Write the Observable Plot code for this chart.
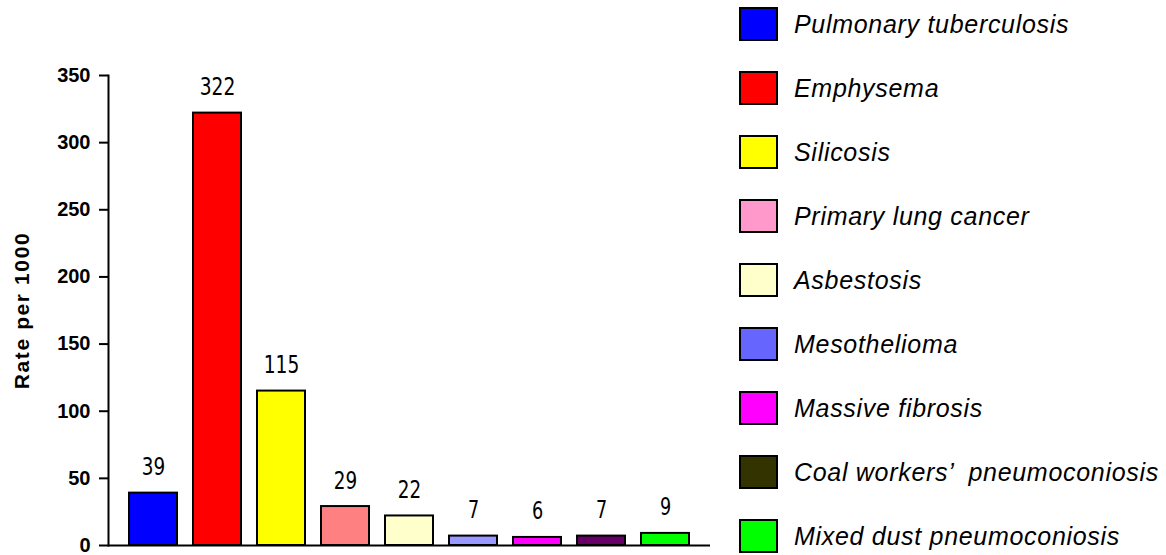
<!DOCTYPE html>
<html>
<head>
<meta charset="utf-8">
<script src="https://cdn.jsdelivr.net/npm/d3@7"></script>
<script src="https://cdn.jsdelivr.net/npm/@observablehq/plot@0.6"></script>
<style>
  body { margin: 0; background: #fff; }
  #wrap { position: relative; width: 1166px; height: 555px; }
  #chart { position: absolute; left: 0; top: 0; }
  #legend { position: absolute; left: 739px; top: 7px; font-family: "Liberation Sans", Arial, sans-serif; }
  .row { position: absolute; left: 0; height: 34px; width: 427px; }
  .sw { position: absolute; left: 0; top: 0; width: 35px; height: 30px; border: 2px solid #000; }
  .lab { position: absolute; left: 55px; top: 0; font-size: 25px; font-style: italic; color: #000; white-space: pre; line-height: 34px; letter-spacing: 0.7px; }
</style>
</head>
<body>
<div id="wrap">
  <div id="chart"></div>
  <div id="legend"></div>
</div>
<script>
const categories = ["Pulmonary tuberculosis", "Emphysema", "Silicosis", "Primary lung cancer", "Asbestosis", "Mesothelioma", "Massive fibrosis", "Coal workers\u2019  pneumoconiosis", "Mixed dust pneumoconiosis"];
const values = [39, 322, 115, 29, 22, 7, 6, 7, 9];
const barColors = ["#0000FF", "#FF0000", "#FFFF00", "#FF8080", "#FFFFCC", "#9999FF", "#FF00FF", "#660066", "#00FF00"];
const legendColors = ["#0000FF", "#FF0000", "#FFFF00", "#FF99CC", "#FFFFCC", "#6666FF", "#FF00FF", "#333300", "#00FF00"];
const yTicks = [0, 50, 100, 150, 200, 250, 300, 350];
const yLabel = "Rate per 1000";

const data = categories.map((c, i) => ({category: c, value: values[i], color: barColors[i]}));

const chart = Plot.plot({
  width: 730,
  height: 555,
  marginLeft: 108,
  marginRight: 20,
  marginTop: 75,
  marginBottom: 10,
  style: {fontFamily: "'Liberation Sans', Arial, sans-serif", background: "#fff"},
  x: {domain: categories, paddingInner: 0.25, paddingOuter: 0.26, axis: null},
  y: {domain: [0, 350], ticks: yTicks, label: null},
  color: {type: "identity"},
  marks: [
    Plot.barY(data, {x: "category", y: "value", fill: "color", stroke: "#000", strokeWidth: 2}),
    Plot.text(data, {x: "category", y: "value", text: d => String(d.value), dy: -18, lineAnchor: "bottom",
      className: "vlabel",
      fontFamily: "'DejaVu Sans Condensed', 'DejaVu Sans', sans-serif", fontSize: 25, fill: "#000"}),
    Plot.axisY({ticks: yTicks, tickSize: 9, strokeWidth: 2, stroke: "#000", text: null, label: null}),
    Plot.text(yTicks, {x: null, y: d => d, frameAnchor: "left", textAnchor: "end", dx: -18, text: d => String(d),
      fontSize: 20, fontWeight: "bold", fill: "#000", className: "yticklab"}),
    Plot.text([yLabel], {frameAnchor: "left", textAnchor: "middle", dx: -86, rotate: -90, fontSize: 21, fontWeight: "bold", fill: "#000", className: "ylab"}),
    Plot.frame({anchor: "left", stroke: "#000", strokeWidth: 2}),
    Plot.ruleY([0], {stroke: "#000", strokeWidth: 2})
  ]
});
document.getElementById("chart").appendChild(chart);

// narrow, tall value labels (condensed glyphs)
d3.select(chart).selectAll(".vlabel text").each(function() {
  const t = this.textContent;
  d3.select(this).attr("textLength", t.length * 12.2 - 1).attr("lengthAdjust", "spacingAndGlyphs");
});
d3.select(chart).selectAll(".ylab text").style("letter-spacing", "1.6px");

const legend = document.getElementById("legend");
categories.forEach((c, i) => {
  const row = document.createElement("div");
  row.className = "row";
  row.style.top = (i * 64) + "px";
  const sw = document.createElement("div");
  sw.className = "sw";
  sw.style.background = legendColors[i];
  const lab = document.createElement("div");
  lab.className = "lab";
  lab.textContent = c;
  row.appendChild(sw);
  row.appendChild(lab);
  legend.appendChild(row);
});
</script>
</body>
</html>
